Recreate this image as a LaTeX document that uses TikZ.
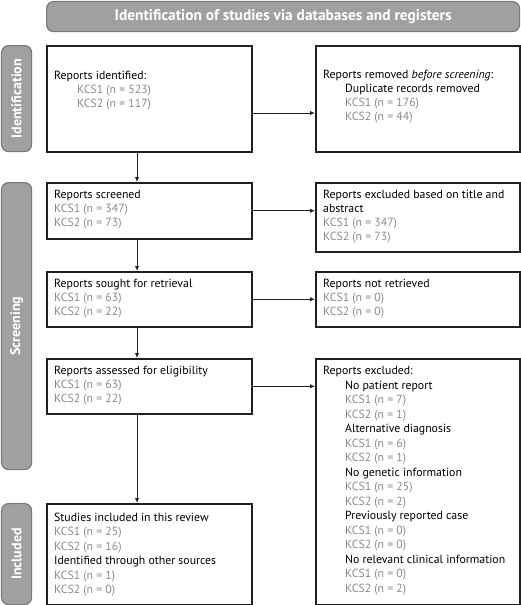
\documentclass[tikz,border=0pt]{standalone}
\usepackage{fontspec}
\setmainfont{PT Sans}
\usetikzlibrary{arrows.meta,calc}
\definecolor{boxc}{HTML}{231F20}
\definecolor{numc}{HTML}{8A8A8A}
\definecolor{tabfill}{HTML}{A0A0A0}
\definecolor{tabline}{HTML}{7A7A7A}
\begin{document}
\begin{tikzpicture}[x=1pt,y=-1pt,
  box/.style={draw=boxc,line width=1.5pt,inner sep=0pt,anchor=north west},
  txt/.style={anchor=north west,inner sep=0pt,align=left,text=black,
    font=\fontsize{11.8pt}{14pt}\selectfont},
  txtw/.style={txt,font=\fontsize{11.8pt}{14.5pt}\selectfont},
  tab/.style={draw=tabline,fill=tabfill,line width=1.2pt,rounded corners=7pt,inner sep=0pt,anchor=north west},
  tabtxt/.style={text=white,font=\fontsize{14pt}{16pt}\selectfont\bfseries},
  arr/.style={draw=boxc,line width=1pt,-{Latex[length=5pt,width=4.5pt]}}]
\useasboundingbox (0,0) rectangle (520,605);
\newcommand{\nc}[1]{\textcolor{numc}{#1}}
% banner and side tabs
\node[tab,minimum width=473pt,minimum height=30pt] (ban) at (46,1) {};
\node[tabtxt,font=\fontsize{15.4pt}{17pt}\selectfont\bfseries] (bant) at (ban.center) {Identification of studies via databases and registers};
\node[tab,minimum width=30pt,minimum height=106pt] (tid) at (1,45) {};
\node[tabtxt,rotate=90] (tidt) at (tid.center) {Identification};
\node[tab,minimum width=30pt,minimum height=287pt] (tsc) at (1,182) {};
\node[tabtxt,rotate=90] (tsct) at (tsc.center) {Screening};
\node[tab,minimum width=30pt,minimum height=101pt] (tin) at (1,503) {};
\node[tabtxt,rotate=90] (tint) at (tin.center) {Included};
% boxes
\node[box,minimum width=205pt,minimum height=106pt] (b1) at (46,45) {};
\node[box,minimum width=204pt,minimum height=106pt] (r1) at (315,45) {};
\node[box,minimum width=205pt,minimum height=56pt] (b2) at (46,182) {};
\node[box,minimum width=204pt,minimum height=69pt] (r2) at (315,182) {};
\node[box,minimum width=205pt,minimum height=55pt] (b3) at (46,271) {};
\node[box,minimum width=204pt,minimum height=55pt] (r3) at (315,271) {};
\node[box,minimum width=205pt,minimum height=55pt] (b4) at (46,358) {};
\node[box,minimum width=204pt,minimum height=246pt] (r4) at (315,358) {};
\node[box,minimum width=205pt,minimum height=101pt] (b5) at (46,503) {};
% texts
\node[txt] (t1) at (54,70.5) {Reports identified:\\\hspace*{23pt}\nc{KCS1 (n = 523)}\\\hspace*{23pt}\nc{KCS2 (n = 117)}};
\node[txt] (u1) at (323,69.5) {Reports removed \emph{before screening}:\\\hspace*{22pt}Duplicate records removed\\\hspace*{22pt}\nc{KCS1 (n = 176)}\\\hspace*{22pt}\nc{KCS2 (n = 44)}};
\node[txt] (t2) at (54,189.5) {Reports screened\\\nc{KCS1 (n = 347)}\\\nc{KCS2 (n = 73)}};
\node[txt] (u2) at (323,189.5) {Reports excluded based on title and\\abstract\\\nc{KCS1 (n = 347)}\\\nc{KCS2 (n = 73)}};
\node[txt] (t3) at (54,278.5) {Reports sought for retrieval\\\nc{KCS1 (n = 63)}\\\nc{KCS2 (n = 22)}};
\node[txt] (u3) at (323,278.5) {Reports not retrieved\\\nc{KCS1 (n = 0)}\\\nc{KCS2 (n = 0)}};
\node[txt] (t4) at (54,366) {Reports assessed for eligibility\\\nc{KCS1 (n = 63)}\\\nc{KCS2 (n = 22)}};
\node[txtw] (u4) at (323,366) {Reports excluded:\\
\hspace*{22pt}No patient report\\\hspace*{22pt}\nc{KCS1 (n = 7)}\\\hspace*{22pt}\nc{KCS2 (n = 1)}\\
\hspace*{22pt}Alternative diagnosis\\\hspace*{22pt}\nc{KCS1 (n = 6)}\\\hspace*{22pt}\nc{KCS2 (n = 1)}\\
\hspace*{22pt}No genetic information\\\hspace*{22pt}\nc{KCS1 (n = 25)}\\\hspace*{22pt}\nc{KCS2 (n = 2)}\\
\hspace*{22pt}Previously reported case\\\hspace*{22pt}\nc{KCS1 (n = 0)}\\\hspace*{22pt}\nc{KCS2 (n = 0)}\\
\hspace*{22pt}No relevant clinical information\\\hspace*{22pt}\nc{KCS1 (n = 0)}\\\hspace*{22pt}\nc{KCS2 (n = 2)}};
\node[txtw] (t5) at (54,512.5) {Studies included in this review\\\nc{KCS1 (n = 25)}\\\nc{KCS2 (n = 16)}\\Identified through other sources\\\nc{KCS1 (n = 1)}\\\nc{KCS2 (n = 0)}};
% connectors
\coordinate (ax) at (137,0);
\coordinate (ay) at (0,113);
\draw[arr] (b1.east |- ay) -- (r1.west |- ay);
\draw[arr] (b2.east) -- (r2.west |- b2.east);
\draw[arr] (b3.east) -- (r3.west |- b3.east);
\draw[arr] (b4.east) -- (r4.west |- b4.east);
\draw[arr] (ax |- b1.south) -- (ax |- b2.north);
\draw[arr] (ax |- b2.south) -- (ax |- b3.north);
\draw[arr] (ax |- b3.south) -- (ax |- b4.north);
\draw[arr] (ax |- b4.south) -- (ax |- b5.north);
\end{tikzpicture}
\end{document}
